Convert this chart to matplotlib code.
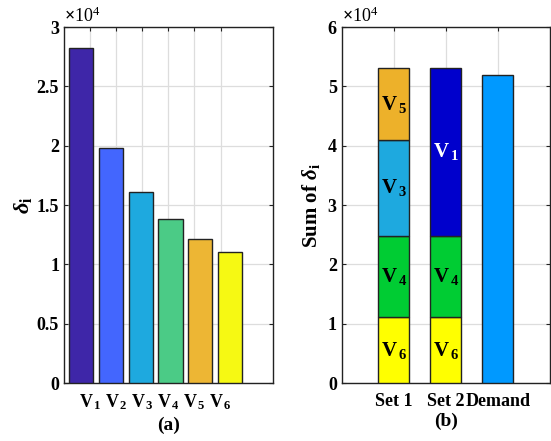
import numpy as np
import matplotlib
matplotlib.use('Agg')
import matplotlib.pyplot as plt

plt.rcParams['font.family'] = 'Liberation Serif'
plt.rcParams['font.weight'] = 'bold'
plt.rcParams['axes.labelweight'] = 'bold'
plt.rcParams['mathtext.fontset'] = 'custom'
plt.rcParams['mathtext.rm'] = 'Liberation Serif:bold'
plt.rcParams['mathtext.bf'] = 'Liberation Serif:bold'
plt.rcParams['mathtext.it'] = 'Liberation Serif:italic'

# data
names = ['V1', 'V2', 'V3', 'V4', 'V5', 'V6']
delta = [28260, 19800, 16070, 13790, 12160, 11060]
colors_a = ['#3E26A8', '#4366FE', '#1EA9DF', '#4BCB86', '#EDB634', '#F6F913']

sets = ['Set 1', 'Set 2', 'Demand']
set1_parts = ['V6', 'V4', 'V3', 'V5']
set2_parts = ['V6', 'V4', 'V1']
demand = 52000
part_colors = {'V6': '#FFFF00', 'V4': '#00CC33', 'V3': '#1EA9DF',
               'V5': '#EDB12A', 'V1': '#0000CC'}
demand_color = '#0099FF'

def sub(name):
    return r'$\mathbf{' + name[0] + r'}_{\,\mathbf{' + name[1:] + '}}$'

fig = plt.figure(figsize=(5.51, 4.41), dpi=100)

# ---- (a)
ax1 = fig.add_axes([0.116, 0.1315, 0.379, 0.807])
pos = 0.66 + 1.14 * np.arange(len(delta))
ax1.bar(pos, delta, width=0.93, color=colors_a, edgecolor='#222222',
        linewidth=1.0, zorder=3)
ax1.set_xlim(0, 8)
ax1.set_ylim(0, 30000)
ax1.set_xticks(np.arange(1, 7))
ax1.set_xticklabels([sub(n) for n in names], fontsize=15)
ax1.set_yticks(np.arange(0, 30001, 5000))
ax1.set_yticklabels(['0', '0.5', '1', '1.5', '2', '2.5', '3'])
ax1.set_ylabel(r'$\mathit{\delta}_\mathbf{i}$', fontsize=16, labelpad=2)
ax1.set_xlabel('(a)', fontsize=14, labelpad=3)
ax1.text(0.0, 1.003, r'$\times$10$^\mathregular{4}$', transform=ax1.transAxes,
         fontsize=13, va='bottom', ha='left', fontweight='normal')

# ---- (b)
ax2 = fig.add_axes([0.620, 0.1315, 0.378, 0.807])
xb = np.arange(1, 4)
bottom = 0
for p in set1_parts:
    v = delta[names.index(p)]
    ax2.bar(xb[0], v, bottom=bottom, width=0.6, color=part_colors[p],
            edgecolor='#222222', linewidth=1.0, zorder=3)
    ax2.text(xb[0], bottom + v / 2, sub(p), ha='center', va='center',
             fontsize=15, zorder=4)
    bottom += v
bottom = 0
for p in set2_parts:
    v = delta[names.index(p)]
    ax2.bar(xb[1], v, bottom=bottom, width=0.6, color=part_colors[p],
            edgecolor='#222222', linewidth=1.0, zorder=3)
    ax2.text(xb[1], bottom + v / 2, sub(p), ha='center', va='center',
             fontsize=15, zorder=4, color='white' if p == 'V1' else 'black')
    bottom += v
ax2.bar(xb[2], demand, width=0.6, color=demand_color, edgecolor='#222222',
        linewidth=1.0, zorder=3)
ax2.set_xlim(0, 4)
ax2.set_ylim(0, 60000)
ax2.set_xticks(xb)
ax2.set_xticklabels(sets, fontsize=11)
ax2.set_yticks(np.arange(0, 60001, 10000))
ax2.set_yticklabels([str(i) for i in range(7)])
ax2.set_ylabel(r'Sum of $\mathit{\delta}_\mathbf{i}$', fontsize=15, labelpad=4)
ax2.set_xlabel('(b)', fontsize=14, labelpad=2)
ax2.text(0.0, 1.003, r'$\times$10$^\mathregular{4}$', transform=ax2.transAxes,
         fontsize=13, va='bottom', ha='left', fontweight='normal')

for ax in (ax1, ax2):
    ax.grid(True, color='#DDDDDD', linewidth=0.9, zorder=0)
    ax.set_axisbelow(True)
    ax.tick_params(direction='in', top=True, right=True, length=3,
                   labelsize=13, color='#222222')
    ax.tick_params(axis='x', pad=7)
    for s in ax.spines.values():
        s.set_linewidth(1.0)
        s.set_color('#222222')

fig.savefig('out.png', dpi=100)
